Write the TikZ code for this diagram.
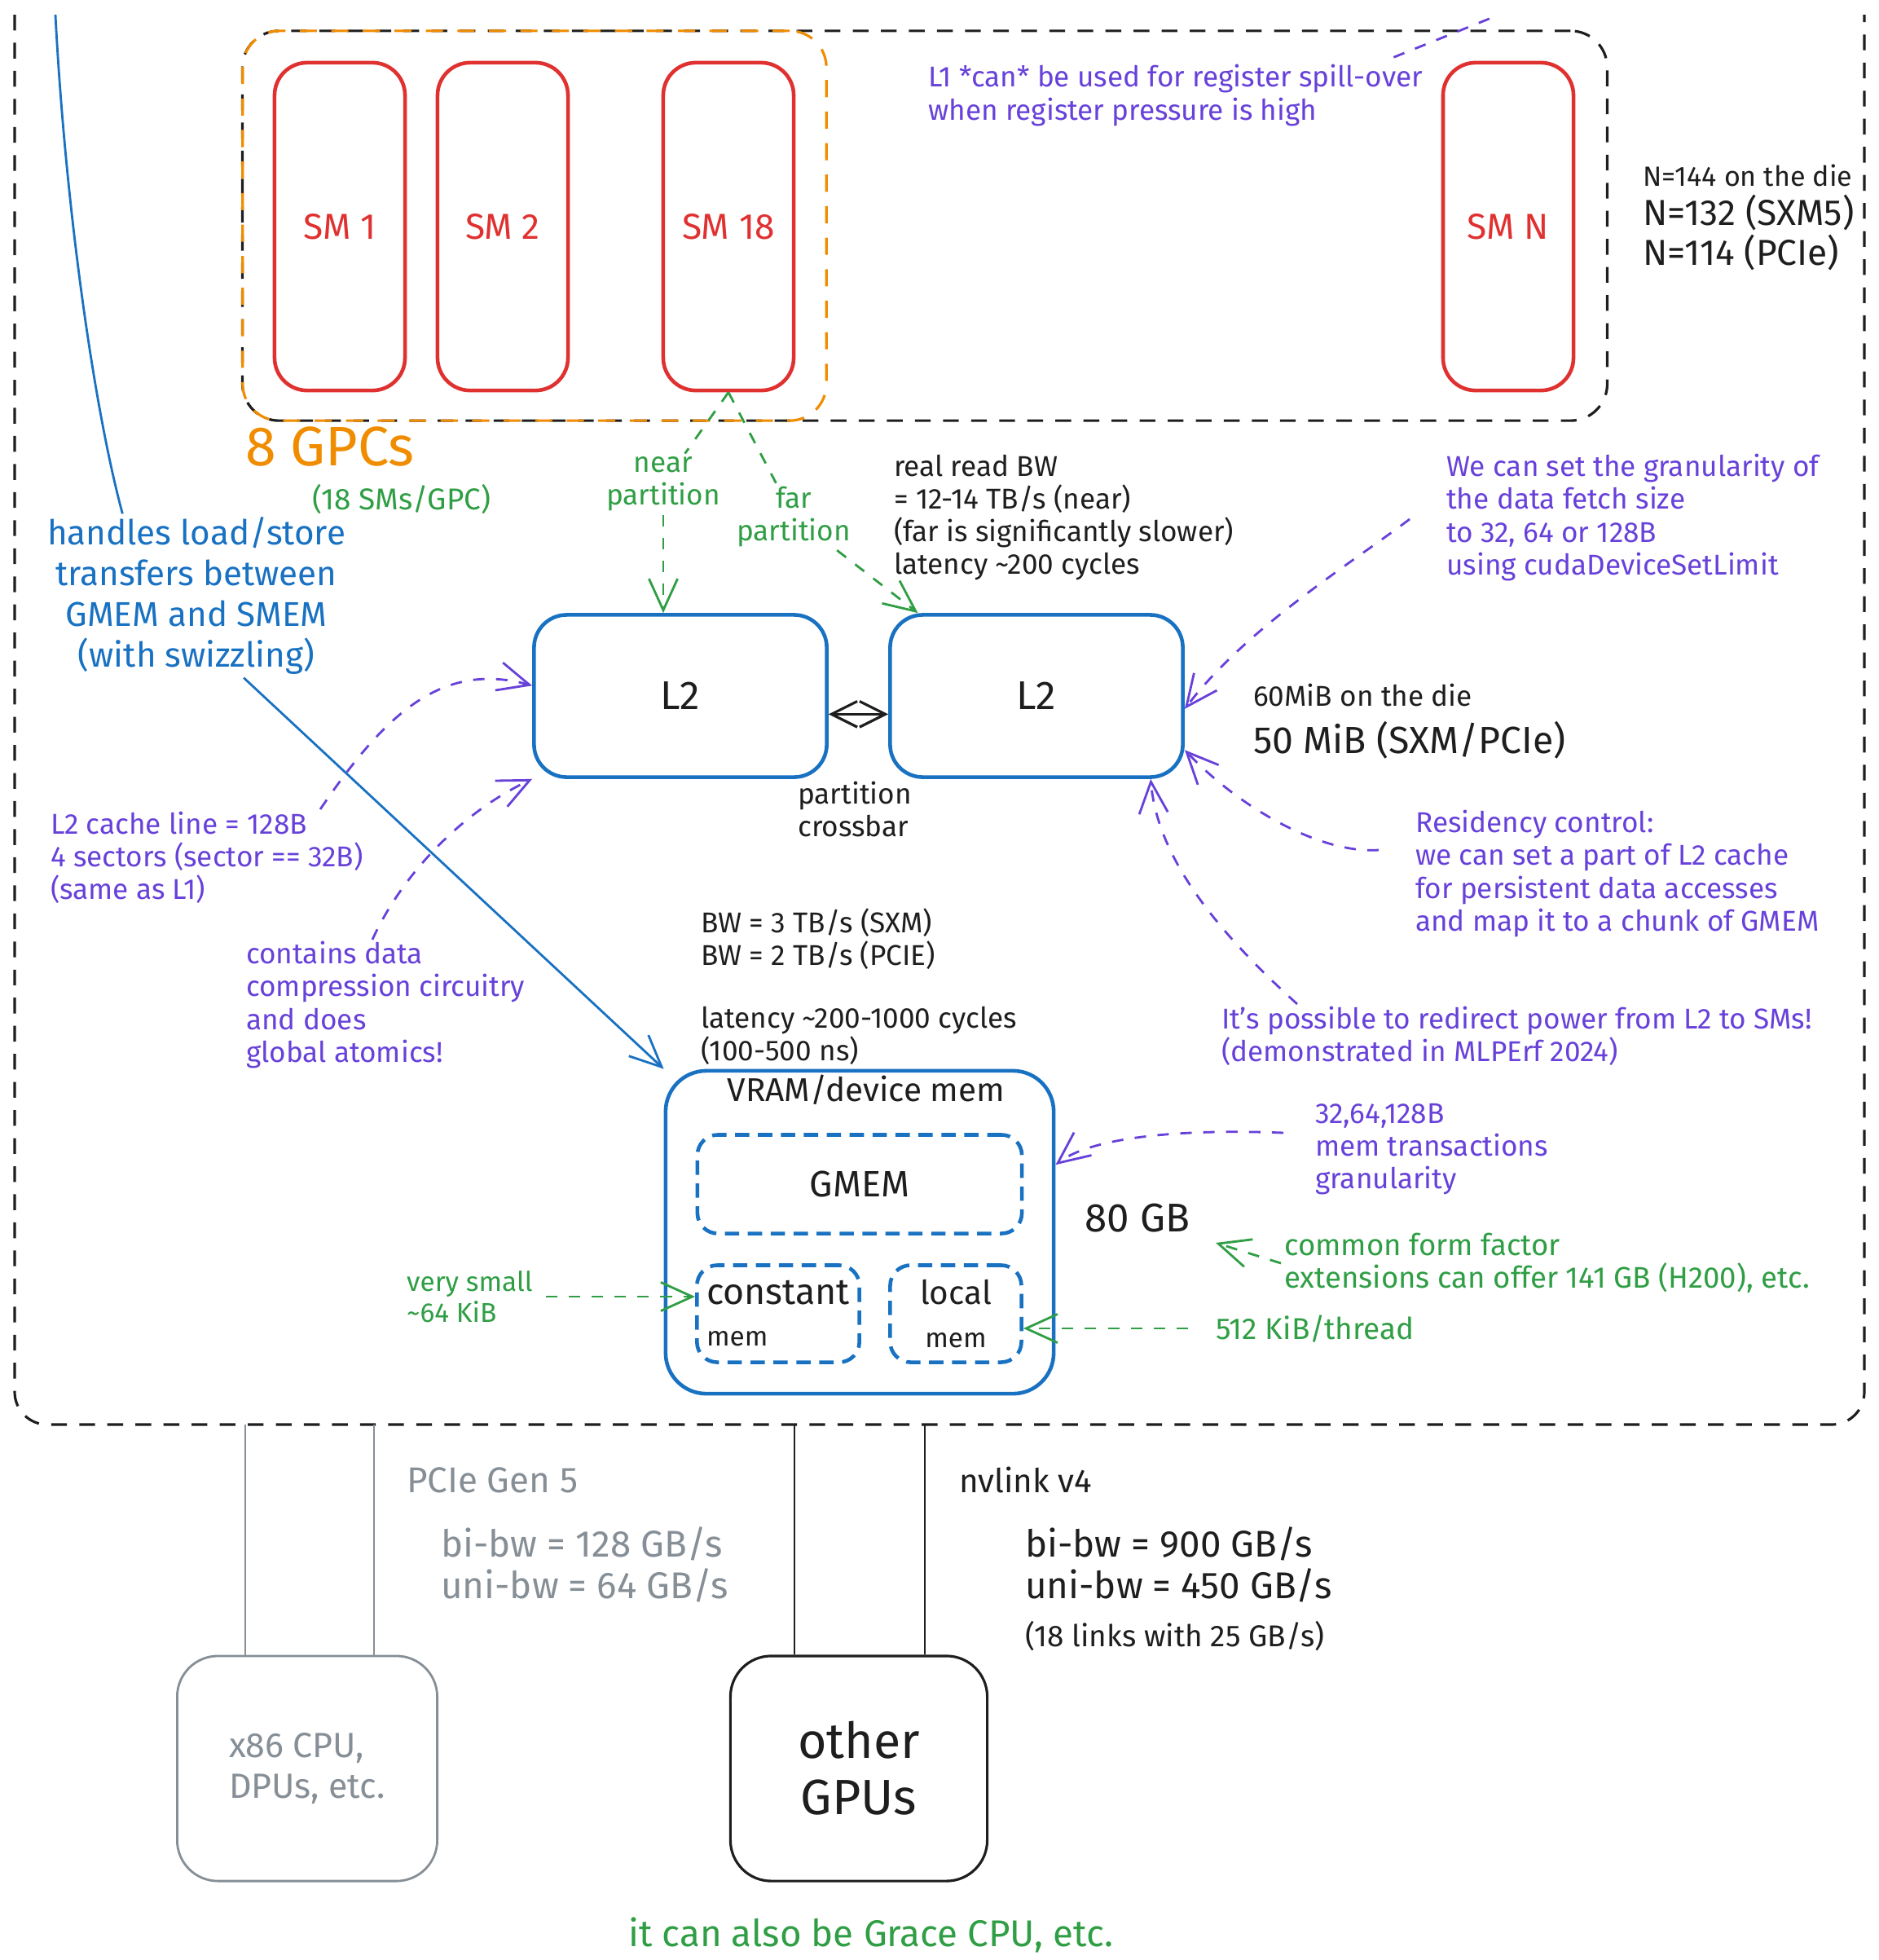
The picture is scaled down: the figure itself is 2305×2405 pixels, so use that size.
\documentclass[tikz,border=0pt]{standalone}
\usepackage{fontspec}
\setmainfont{Fira Sans}
\usetikzlibrary{arrows.meta}
\definecolor{smred}{HTML}{E03131}
\definecolor{gpcorange}{HTML}{F08C00}
\definecolor{memblue}{HTML}{1971C2}
\definecolor{notegreen}{HTML}{2F9E44}
\definecolor{noteviolet}{HTML}{6741D9}
\definecolor{linkgray}{HTML}{868E96}
\definecolor{inkblack}{HTML}{1E1E1E}

\begin{document}
\begin{tikzpicture}[x=0.01cm, y=-0.01cm]

                \tikzset{dieframe/.style = {draw=inkblack, line width=0.9pt, dash pattern=on 5.5pt off 4.3pt, rounded corners=0.4cm}}
                \tikzset{smrow/.style = {draw=inkblack, line width=0.9pt, dash pattern=on 5.5pt off 4.3pt, rounded corners=0.45cm, minimum width=16.74cm, minimum height=4.78cm}}
                \tikzset{gpc/.style = {draw=gpcorange, line width=0.9pt, dash pattern=on 6pt off 5pt, rounded corners=0.45cm, minimum width=7.16cm, minimum height=4.78cm}}
                \tikzset{sm/.style = {draw=smred, line width=1.3pt, rounded corners=0.4cm, minimum width=1.6cm, minimum height=4.02cm, text=smred, font=\fontsize{12.6}{14}\selectfont}}
                \tikzset{cache/.style = {draw=memblue, line width=1.3pt, rounded corners=0.4cm, minimum width=3.59cm, minimum height=1.99cm, text=inkblack, font=\fontsize{14}{16}\selectfont}}
                \tikzset{devmem/.style = {draw=memblue, line width=1.3pt, rounded corners=0.5cm, minimum width=4.76cm, minimum height=3.96cm}}
                \tikzset{memspace/.style = {draw=memblue, line width=1.3pt, dash pattern=on 5pt off 3pt, rounded corners=0.25cm, text=inkblack}}
                \tikzset{hostbox/.style = {draw=linkgray, line width=0.8pt, rounded corners=0.5cm, minimum width=3.19cm, minimum height=2.76cm, text=linkgray, align=left, font=\fontsize{12.2}{14.5}\selectfont}}
                \tikzset{peerbox/.style = {draw=inkblack, line width=0.9pt, rounded corners=0.5cm, minimum width=3.15cm, minimum height=2.76cm, text=inkblack, align=center, font=\fontsize{17.3}{19.6}\selectfont}}
                \tikzset{note/.style = {inner sep=1pt, align=left, font=\fontsize{10}{11.4}\selectfont}}
                \tikzset{bnote/.style = {note, text=inkblack}}
                \tikzset{vnote/.style = {note, text=noteviolet}}
                \tikzset{gnote/.style = {note, text=notegreen}}
                \tikzset{bigtext/.style = {font=\fontsize{13}{14.5}\selectfont}}
                \tikzset{headed/.style = {-{Straight Barb[length=11pt, width=10pt]}}}
                \tikzset{vdash/.style = {draw=noteviolet, line width=0.8pt, dash pattern=on 4pt off 4pt}}
                \tikzset{gdash/.style = {draw=notegreen, line width=0.8pt, dash pattern=on 4pt off 4pt}}
                \tikzset{bluelink/.style = {draw=memblue, line width=0.8pt}}
                \tikzset{pcieline/.style = {draw=linkgray, line width=0.5pt}}
                \tikzset{nvline/.style = {draw=inkblack, line width=0.6pt}}

                \useasboundingbox (0, 0) rectangle (2305, 2405);

                \draw[dieframe] (18, 18) -- (18, 1748) -- (2288, 1748) -- (2288, 18);

                \node[smrow] (smrow) at (1135, 277) {};
                \node[gpc] (gpc) at (656, 277) {};
                \node[sm] (sm1) at (417, 278) {SM 1};
                \node[sm] (sm2) at (617, 278) {SM 2};
                \node[sm] (sm18) at (894, 278) {SM 18};
                \node[sm] (smn) at (1851, 278) {SM N};

                \node[note, text=gpcorange, font=\fontsize{19.4}{22}\selectfont, anchor=west] (gpcs) at (297, 548) {8 GPCs};
                \node[gnote, font=\fontsize{10.5}{12}\selectfont, anchor=west] (smspergpc) at (379, 613) {(18 SMs/GPC)};
                \node[vnote, anchor=west] (spillnote) at (1135, 117) {L1 *can* be used for register spill-over\\when register pressure is high};
                \node[bnote, font=\fontsize{9.7}{11}\selectfont, anchor=west] (ndie) at (2012, 215) {N=144 on the die};
                \node[bnote, font=\fontsize{12.6}{14.5}\selectfont, anchor=west] (nsxm) at (2012, 261) {N=132 (SXM5)};
                \node[bnote, font=\fontsize{12.6}{14.5}\selectfont, anchor=west] (npcie) at (2012, 310) {N=114 (PCIe)};
                \node[note, text=memblue, font=\fontsize{12}{14.2}\selectfont, align=center] (handles) at (241, 731) {handles load/store\\transfers between\\GMEM and SMEM\\(with swizzling)};

                \node[cache] (l2a) at (835, 854) {L2};
                \node[cache] (l2b) at (1272, 854) {L2};
                \node[gnote, align=center] (nearlbl) at (814, 594) {near\\partition};
                \node[gnote, align=center] (farlbl) at (974, 634) {far\\partition};
                \node[bnote, anchor=west] (readbw) at (1093, 635) {real read BW\\= 12-14 TB/s (near)\\(far is significantly slower)\\latency \textasciitilde200 cycles};
                \node[vnote, anchor=west] (grannote) at (1771, 635) {We can set the granularity of\\the data fetch size\\to 32, 64 or 128B\\using cudaDeviceSetLimit};
                \node[bnote, anchor=west] (l2die) at (1534, 853) {60MiB on the die};
                \node[bnote, font=\fontsize{13.2}{15}\selectfont, anchor=west] (l2size) at (1534, 908) {50 MiB (SXM/PCIe)};
                \node[bnote, anchor=west] (xbar) at (975, 993) {partition\\crossbar};
                \node[vnote, anchor=west] (resnote) at (1733, 1072) {Residency control:\\we can set a part of L2 cache\\for persistent data accesses\\and map it to a chunk of GMEM};
                \node[vnote, anchor=west] (powernote) at (1495, 1271) {It's possible to redirect power from L2 to SMs!\\(demonstrated in MLPErf 2024)};
                \node[vnote, anchor=west] (linenote) at (58, 1052) {L2 cache line = 128B\\4 sectors (sector == 32B)\\(same as L1)};
                \node[vnote, anchor=west] (compnote) at (298, 1233) {contains data\\compression circuitry\\and does\\global atomics!};
                \node[bnote, anchor=west] (hbmbw) at (856, 1152) {BW = 3 TB/s (SXM)\\BW = 2 TB/s (PCIE)};
                \node[bnote, anchor=west] (hbmlat) at (856, 1271) {latency \textasciitilde200-1000 cycles\\(100-500 ns)};

                \node[devmem] (vram) at (1055, 1512) {};
                \node[bnote, font=\fontsize{11.5}{13}\selectfont] (vramlbl) at (1063, 1337) {VRAM/device mem};
                \node[memspace, minimum width=3.98cm, minimum height=1.21cm, font=\fontsize{12.8}{14}\selectfont] (gmem) at (1055, 1453) {GMEM};
                \node[memspace, minimum width=1.99cm, minimum height=1.19cm, align=left, font=\fontsize{12.7}{14.5}\selectfont] (constmem) at (955, 1612) {constant\\{\fontsize{9.5}{11}\selectfont mem}};
                \node[memspace, minimum width=1.61cm, minimum height=1.19cm, align=center, font=\fontsize{11.5}{15.3}\selectfont] (localmem) at (1173, 1612) {local\\{\fontsize{9.5}{11}\selectfont mem}};
                \node[bnote, font=\fontsize{14}{16}\selectfont, outer sep=8pt] (gb80) at (1396, 1495) {80 GB};
                \node[vnote, anchor=west] (txnote) at (1610, 1410) {32,64,128B\\mem transactions\\granularity};
                \node[gnote, font=\fontsize{10.4}{11.4}\selectfont, anchor=west] (formnote) at (1572, 1550) {common form factor\\extensions can offer 141 GB (H200), etc.};
                \node[gnote, font=\fontsize{9.5}{11}\selectfont, anchor=west] (smallnote) at (495, 1591) {very small\\\textasciitilde64 KiB};
                \node[gnote, font=\fontsize{10.5}{12}\selectfont, anchor=west] (threadnote) at (1488, 1630) {512 KiB/thread};

                \node[hostbox] (x86) at (377, 2170) {x86 CPU,\\DPUs, etc.};
                \node[peerbox] (gpus) at (1054, 2170) {other\\GPUs};
                \node[note, text=linkgray, font=\fontsize{12.5}{14}\selectfont, anchor=west] (pcielbl) at (495, 1816) {PCIe Gen 5};
                \node[note, text=linkgray, bigtext, anchor=west] (pciebw) at (537, 1920) {bi-bw = 128 GB/s\\uni-bw = 64 GB/s};
                \node[bnote, font=\fontsize{11.5}{13}\selectfont, anchor=west] (nvlbl) at (1173, 1816) {nvlink v4};
                \node[bnote, bigtext, anchor=west] (nvbw) at (1254, 1920) {bi-bw = 900 GB/s\\uni-bw = 450 GB/s};
                \node[bnote, font=\fontsize{10.5}{12}\selectfont, anchor=west] (nvlinks) at (1254, 2008) {(18 links with 25 GB/s)};
                \node[gnote, font=\fontsize{13}{15}\selectfont] (grace) at (1069, 2374) {it can also be Grace CPU, etc.};

                \coordinate (pcieL) at (301, 1748);
                \coordinate (pcieR) at (459, 1748);
                \coordinate (nvL) at (975, 1748);
                \coordinate (nvR) at (1135, 1748);
                \coordinate (tmatop) at (68, 18);
                \coordinate (spilltop) at (1840, 18);
                \coordinate (grantail) at (1730, 637);
                \coordinate (restail) at (1692, 1043);
                \coordinate (powertail) at (1592, 1232);
                \coordinate (linetail) at (393, 993);
                \coordinate (comptail) at (457, 1153);
                \coordinate (txtail) at (1575, 1390);

                \draw[pcieline] (pcieL) -- (pcieL |- x86.north);
                \draw[pcieline] (pcieR) -- (pcieR |- x86.north);
                \draw[nvline] (nvL) -- (nvL |- gpus.north);
                \draw[nvline] (nvR) -- (nvR |- gpus.north);

                \draw[gdash] (sm18.south) -- (nearlbl);
                \draw[gdash, headed] (nearlbl) -- (nearlbl |- l2a.north);
                \draw[gdash] (sm18.south) -- (farlbl);
                \draw[gdash, headed] (farlbl) -- (l2b.145);

                \draw[draw=inkblack, line width=0.9pt, {Straight Barb[length=9pt, width=9pt]}-{Straight Barb[length=9pt, width=9pt]}] (l2a.-7) -- (l2a.-7 -| l2b.west);

                \draw[bluelink] (tmatop) .. controls (80, 250) and (115, 500) .. (handles.132);
                \draw[bluelink, headed] (handles.-60) -- (vram.north west);

                \draw[vdash] ([xshift=-0.4cm, yshift=0.05cm]spillnote.north east) -- (spilltop);
                \draw[vdash, headed] (grantail) .. controls (1660, 690) and (1530, 770) .. (l2b.-5);
                \draw[vdash, headed] (restail) .. controls (1620, 1048) and (1520, 990) .. (l2b.-20);
                \draw[vdash, headed] (powertail) .. controls (1490, 1140) and (1420, 1050) .. (l2b.-36);
                \draw[vdash, headed] (linetail) .. controls (470, 880) and (540, 810) .. (l2a.176);
                \draw[vdash, headed] (comptail) .. controls (490, 1080) and (560, 1000) .. (l2a.south west);
                \draw[vdash, headed] (txtail) .. controls (1450, 1385) and (1340, 1395) .. (vram.19);

                \draw[gdash, headed] (formnote.west) -- (gb80);
                \draw[gdash, headed, shorten <=0.12cm] (smallnote.east) -- (smallnote.east -| constmem.west);
                \draw[gdash, headed, shorten <=0.3cm] (threadnote.west) -- (threadnote.west -| localmem.east);
            \end{tikzpicture}
\end{document}
